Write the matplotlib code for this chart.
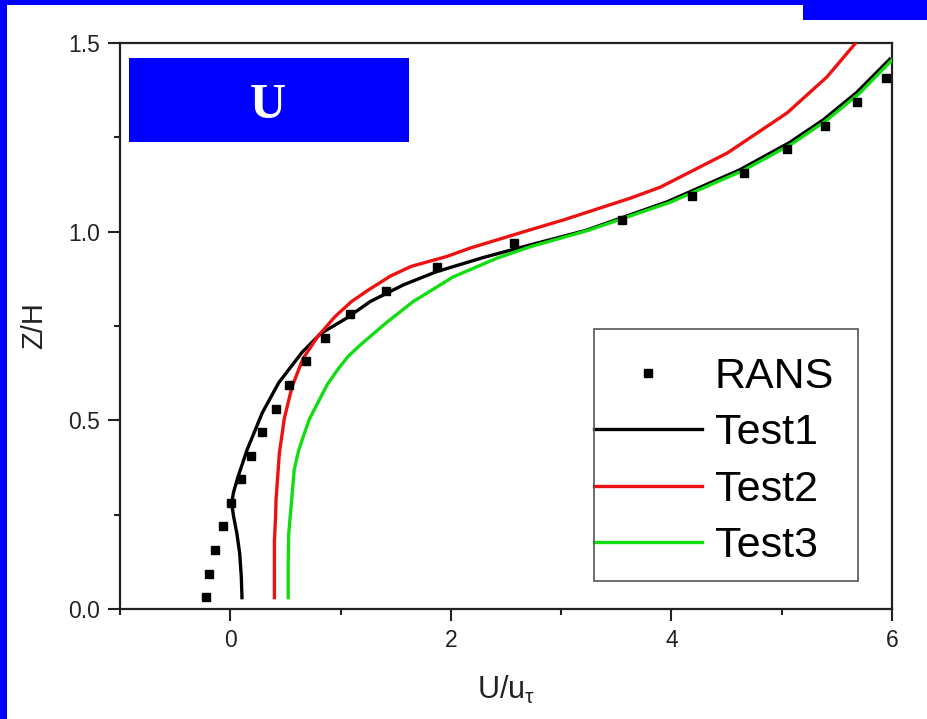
import matplotlib
matplotlib.use("Agg")
import matplotlib.pyplot as plt
from matplotlib.patches import Rectangle
from matplotlib.ticker import MultipleLocator, FixedLocator

plt.rcParams['font.family'] = ['Liberation Sans', 'DejaVu Sans']
plt.rcParams['mathtext.fontset'] = 'custom'
plt.rcParams['mathtext.rm'] = 'Liberation Sans'
plt.rcParams['mathtext.it'] = 'Liberation Sans'

# ---------------- data ----------------
rans_x = [-0.22, -0.19, -0.14, -0.07, 0.01, 0.10, 0.19, 0.29, 0.41, 0.53, 0.69, 0.86,
          1.09, 1.41, 1.87, 2.57, 3.55, 4.19, 4.66, 5.05, 5.39, 5.68, 5.95]
rans_z = [0.031, 0.094, 0.156, 0.219, 0.281, 0.344, 0.406, 0.469, 0.531, 0.594, 0.656,
          0.719, 0.781, 0.844, 0.906, 0.969, 1.031, 1.094, 1.156, 1.219, 1.281, 1.344, 1.406]

test1_x = [0.106, 0.10, 0.085, 0.06, 0.03, 0.012, 0.03, 0.07, 0.15, 0.29, 0.44, 0.65, 0.82,
           1.05, 1.27, 1.57, 1.87, 2.30, 2.72, 3.22, 3.96, 4.62, 5.07, 5.38, 5.68, 5.98]
test1_z = [0.03, 0.085, 0.148, 0.20, 0.245, 0.28, 0.31, 0.35, 0.42, 0.52, 0.60, 0.68, 0.73,
           0.77, 0.815, 0.859, 0.894, 0.932, 0.965, 1.003, 1.079, 1.164, 1.236, 1.297,
           1.369, 1.457]

test2_x = [0.40, 0.40, 0.40, 0.41, 0.415, 0.445, 0.49, 0.56, 0.66, 0.79, 0.95, 1.10, 1.25,
           1.45, 1.64, 1.96, 2.18, 2.72, 3.02, 3.63, 3.90, 4.51, 5.05, 5.41, 5.70]
test2_z = [0.03, 0.10, 0.18, 0.24, 0.29, 0.413, 0.505, 0.589, 0.664, 0.721, 0.775, 0.815,
           0.845, 0.882, 0.908, 0.934, 0.957, 1.005, 1.031, 1.089, 1.118, 1.209, 1.315,
           1.41, 1.51]

test3_x = [0.525, 0.525, 0.53, 0.545, 0.58, 0.62, 0.665, 0.72, 0.80, 0.88, 0.97, 1.07,
           1.18, 1.42, 1.66, 2.02, 2.42, 2.72, 3.24, 3.99, 4.65, 5.10, 5.41, 5.71, 6.0]
test3_z = [0.03, 0.12, 0.20, 0.25, 0.37, 0.42, 0.46, 0.505, 0.55, 0.595, 0.633, 0.67,
           0.70, 0.76, 0.815, 0.88, 0.930, 0.960, 1.003, 1.078, 1.162, 1.234, 1.296,
           1.368, 1.455]

series_labels = ['RANS', 'Test1', 'Test2', 'Test3']
x_major = [0, 2, 4, 6]
y_major = [0.0, 0.5, 1.0, 1.5]
# --------------------------------------

W, H = 928, 719
fig = plt.figure(figsize=(W / 100, H / 100), dpi=100)
fig.patch.set_facecolor('white')

BLUE = '#0000ff'
# blue slide border decorations
fig.patches.append(Rectangle((0, 0), 7 / W, 1, transform=fig.transFigure,
                             facecolor=BLUE, edgecolor='none', zorder=0))
fig.patches.append(Rectangle((0, 1 - 5 / H), 1, 5 / H, transform=fig.transFigure,
                             facecolor=BLUE, edgecolor='none', zorder=0))
fig.patches.append(Rectangle((803 / W, 1 - 20 / H), 1 - 803 / W, 20 / H,
                             transform=fig.transFigure,
                             facecolor=BLUE, edgecolor='none', zorder=0))

ax = fig.add_axes([120 / W, 1 - 609 / H, 772 / W, 566 / H])

ax.plot(test1_x, test1_z, color='black', lw=2.4, label=series_labels[1], zorder=3)
ax.plot(test2_x, test2_z, color='#ee1111', lw=2.4, label=series_labels[2], zorder=3)
ax.plot(test3_x, test3_z, color='#11dd11', lw=2.4, label=series_labels[3], zorder=3)
ax.plot(rans_x, rans_z, linestyle='none', marker='s', markersize=6, color='black',
        label=series_labels[0], zorder=4)

ax.set_xlim(-1, 6)
ax.set_ylim(0, 1.5)
ax.xaxis.set_major_locator(FixedLocator(x_major))
ax.xaxis.set_minor_locator(MultipleLocator(1))
ax.yaxis.set_major_locator(FixedLocator(y_major))
ax.yaxis.set_minor_locator(MultipleLocator(0.25))
ax.set_yticklabels(['%.1f' % v for v in y_major])
ax.set_xticklabels(['%d' % v for v in x_major])

ax.tick_params(which='major', direction='out', length=8.5, width=1.5, labelsize=16.5,
               pad=6, colors='#222222', labelcolor='#222222')
ax.tick_params(which='minor', direction='out', length=4.5, width=1.5, colors='#222222')
ax.tick_params(top=False, right=False)
for s in ax.spines.values():
    s.set_linewidth(1.6)
    s.set_color('#222222')

ax.set_xlabel(r'U/u$_{\tau}$', fontsize=22, labelpad=16, color='#222222')
ax.set_ylabel('Z/H', fontsize=21, labelpad=14, color='#222222')

# blue "U" title box inside the axes
ax.add_patch(Rectangle((0.0117, 0.825), 0.3627, 0.1485, transform=ax.transAxes,
                       facecolor=BLUE, edgecolor='none', zorder=5))
ax.text(0.192, 0.889, 'U', transform=ax.transAxes, ha='center', va='center',
        color='white', fontsize=36, fontweight='bold', family='Liberation Serif', zorder=6)

# legend
handles, labels = ax.get_legend_handles_labels()
order = [3, 0, 1, 2]
leg = ax.legend([handles[i] for i in order], [labels[i] for i in order],
                loc='upper left', bbox_to_anchor=(594 / W, 1 - 357 / H),
                bbox_transform=fig.transFigure, frameon=False, fontsize=31,
                handlelength=2.5, handletextpad=0.3, borderpad=0.0,
                labelspacing=0.38, numpoints=1, borderaxespad=0.0)
fig.patches.append(Rectangle((594 / W, 1 - 581 / H), 264 / W, 252 / H,
                             transform=fig.transFigure, facecolor='none',
                             edgecolor='#555555', lw=1.2, zorder=10))

fig.savefig('out.png', dpi=100)
